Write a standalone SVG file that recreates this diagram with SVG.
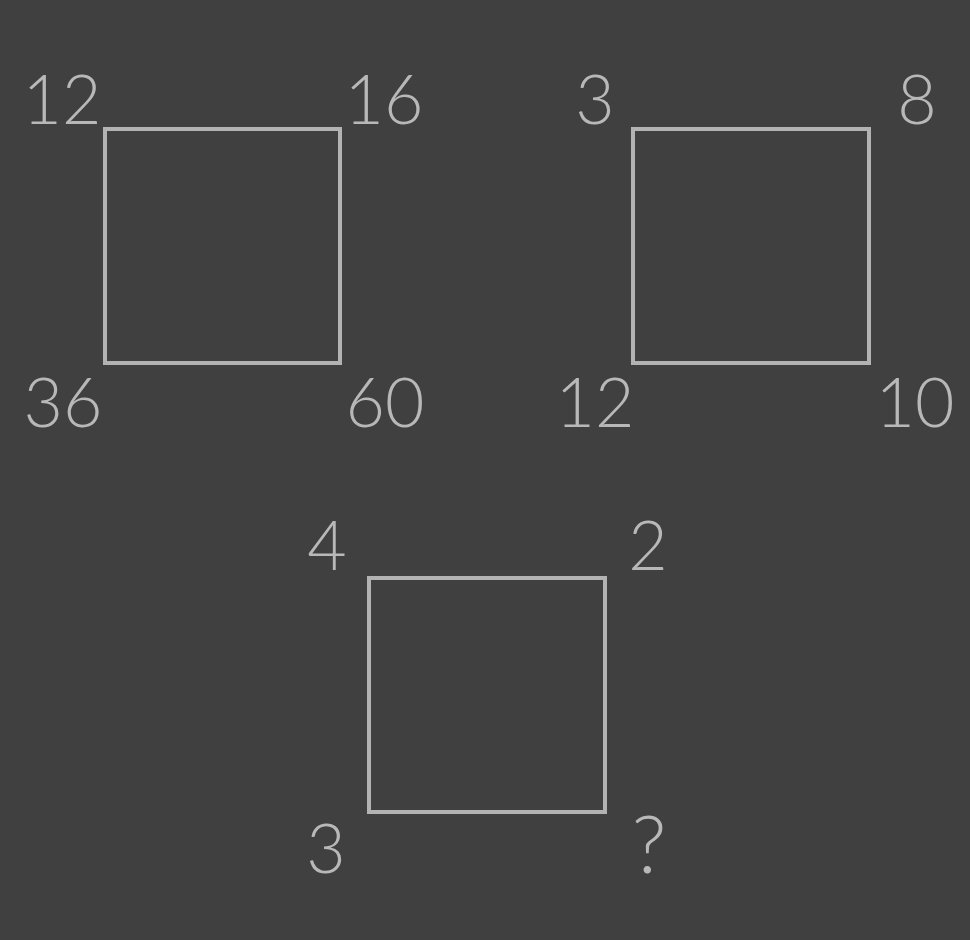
<svg xmlns="http://www.w3.org/2000/svg" width="970" height="940" viewBox="0 0 970 940">
<style>
.box{fill:none;stroke:#b3b3b3;stroke-width:4}
.num{fill:#b8b8b8;font-family:Lato,"Noto Sans",sans-serif;font-weight:300;font-size:68px;text-anchor:middle}
.q{font-size:80px}
</style>
<rect width="970" height="940" fill="#404040"/>
<g id="square1">
<rect class="box" x="105" y="129" width="235" height="234"/>
<text class="num" x="62" y="124">12</text>
<text class="num" x="384" y="124">16</text>
<text class="num" x="63" y="427">36</text>
<text class="num" x="385" y="427">60</text>
</g>
<g id="square2">
<rect class="box" x="633" y="129" width="236" height="234"/>
<text class="num" x="595" y="124">3</text>
<text class="num" x="917" y="124">8</text>
<text class="num" x="595" y="427">12</text>
<text class="num" x="915" y="427">10</text>
</g>
<g id="square3">
<rect class="box" x="369" y="578" width="236" height="234"/>
<text class="num" x="327" y="570">4</text>
<text class="num" x="648" y="570">2</text>
<text class="num" x="326" y="873">3</text>
<text class="num q" x="649" y="873">?</text>
</g>
<g id="connectors"/>
</svg>
